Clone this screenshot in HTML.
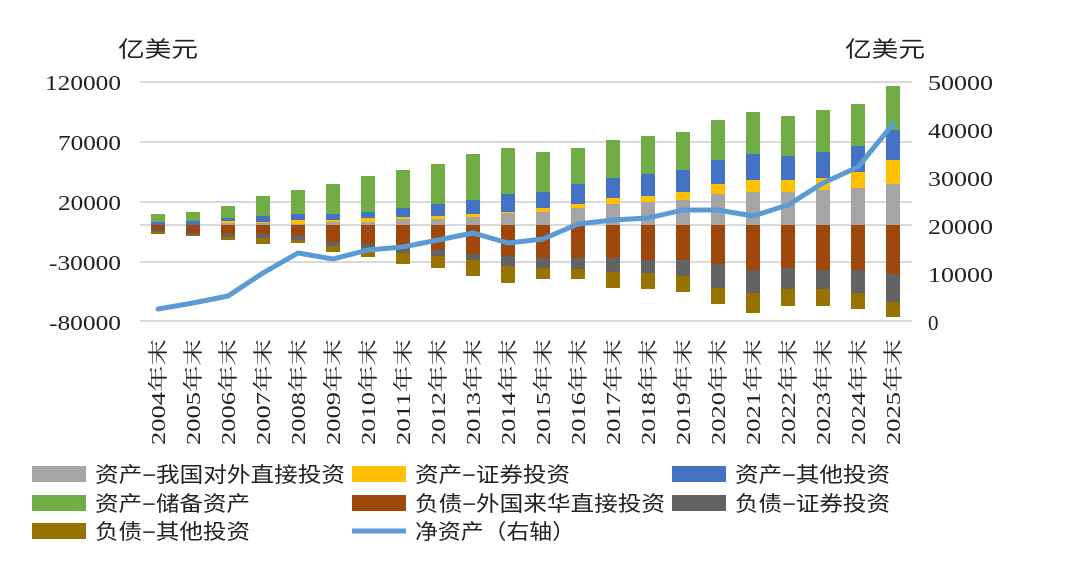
<!DOCTYPE html>
<html><head><meta charset="utf-8"><style>
html,body{margin:0;padding:0;background:#fff;}
svg{display:block;}
text{font-family:"Liberation Serif","Noto Serif CJK SC","Noto Sans CJK SC",serif;fill:#222;}
.cjk{font-family:"Liberation Sans","Noto Sans CJK SC",sans-serif;}
</style></head><body>
<svg id="s" width="1066" height="571" xmlns="http://www.w3.org/2000/svg">
<g stroke="#d9d9d9" stroke-width="2">
<line x1="140" y1="82" x2="912" y2="82"/><line x1="140" y1="142" x2="912" y2="142"/>
<line x1="140" y1="202" x2="912" y2="202"/><line x1="140" y1="225" x2="912" y2="225"/>
<line x1="140" y1="262" x2="912" y2="262"/><line x1="140" y1="321" x2="912" y2="321"/>
</g>
<text x="118" y="57" font-size="22" class="cjk" textLength="80" lengthAdjust="spacingAndGlyphs">亿美元</text>
<text x="845" y="57" font-size="22" class="cjk" textLength="80" lengthAdjust="spacingAndGlyphs">亿美元</text>
<g font-size="21" text-anchor="end" lengthAdjust="spacingAndGlyphs">
<text x="121" y="90" textLength="76" lengthAdjust="spacingAndGlyphs">120000</text>
<text x="121" y="150" textLength="63" lengthAdjust="spacingAndGlyphs">70000</text>
<text x="121" y="210" textLength="63" lengthAdjust="spacingAndGlyphs">20000</text>
<text x="121" y="270" textLength="72" lengthAdjust="spacingAndGlyphs">-30000</text>
<text x="121" y="330" textLength="72" lengthAdjust="spacingAndGlyphs">-80000</text>
</g>
<g font-size="21">
<text x="928" y="90" textLength="65" lengthAdjust="spacingAndGlyphs">50000</text>
<text x="928" y="138" textLength="65" lengthAdjust="spacingAndGlyphs">40000</text>
<text x="928" y="186" textLength="65" lengthAdjust="spacingAndGlyphs">30000</text>
<text x="928" y="234" textLength="65" lengthAdjust="spacingAndGlyphs">20000</text>
<text x="928" y="282" textLength="65" lengthAdjust="spacingAndGlyphs">10000</text>
<text x="928" y="330">0</text>
</g>
<g id="bars"></g>
<g id="xl" font-size="20"></g>
<polyline id="ln" fill="none" stroke="#5b9bd5" stroke-width="5" stroke-linejoin="round" stroke-linecap="round"/>
<g font-size="21" class="cjk">
<rect x="32" y="466" width="54" height="16" fill="#a5a5a5"/><text x="95" y="482" class="cjk" textLength="250" lengthAdjust="spacingAndGlyphs">资产−我国对外直接投资</text>
<rect x="352" y="466" width="54" height="16" fill="#ffc000"/><text x="415" y="482" class="cjk" textLength="155" lengthAdjust="spacingAndGlyphs">资产−证券投资</text>
<rect x="672" y="466" width="54" height="16" fill="#4472c4"/><text x="735" y="482" class="cjk" textLength="155" lengthAdjust="spacingAndGlyphs">资产−其他投资</text>
<rect x="32" y="495" width="54" height="16" fill="#70ad47"/><text x="95" y="511" class="cjk" textLength="155" lengthAdjust="spacingAndGlyphs">资产−储备资产</text>
<rect x="352" y="495" width="54" height="16" fill="#9e480e"/><text x="415" y="511" class="cjk" textLength="250" lengthAdjust="spacingAndGlyphs">负债−外国来华直接投资</text>
<rect x="672" y="495" width="54" height="16" fill="#636363"/><text x="735" y="511" class="cjk" textLength="155" lengthAdjust="spacingAndGlyphs">负债−证券投资</text>
<rect x="32" y="523" width="54" height="16" fill="#997300"/><text x="95" y="539" class="cjk" textLength="155" lengthAdjust="spacingAndGlyphs">负债−其他投资</text>
<line x1="352" y1="531" x2="406" y2="531" stroke="#5b9bd5" stroke-width="5"/><text x="415" y="539" class="cjk" textLength="160" lengthAdjust="spacingAndGlyphs">净资产（右轴）</text>
</g>
</svg>
<script>
var P=[[225,225,222,214],[225,225,221,212],[223,221,218,206],[223,222,216,196],[224,220,214,190],[222,220,214,184],[222,218,212,176],[219,217,208,170],[219,216,204,164],[217,214,200,154],[213,212,194,148],[212,208,192,152],[208,204,184,148],[204,198,178,140],[202,196,174,136],[200,192,170,132],[194,184,160,120],[192,180,154,112],[192,180,156,116],[190,178,152,110],[188,172,146,104],[184,160,130,86]];
var N=[[230,232,234],[233,235,236],[234,237,240],[234,238,244],[236,240,243],[242,246,252],[244,248,257],[250,253,264],[250,256,268],[254,260,276],[256,266,283],[258,268,279],[258,269,279],[258,272,288],[260,273,289],[260,276,292],[264,288,304],[270,293,313],[268,289,306],[270,289,306],[270,293,309],[274,302,317]];
var L=[309,303,296,273,253,259,250,247,240,233,243,239,224,220,218,210,210,216,205,183,167,124];
var pc=["#a5a5a5","#ffc000","#4472c4","#70ad47"],nc=["#9e480e","#636363","#997300"];
var s="",x="",pts=[];
for(var i=0;i<22;i++){var cx=158+35*i,l=cx-7;
 var prev=225;for(var k=0;k<4;k++){var t=P[i][k];if(prev>t)s+='<rect x="'+l+'" y="'+t+'" width="14" height="'+(prev-t)+'" fill="'+pc[k]+'"/>';prev=t;}
 prev=225;for(k=0;k<3;k++){t=N[i][k];if(t>prev)s+='<rect x="'+l+'" y="'+prev+'" width="14" height="'+(t-prev)+'" fill="'+nc[k]+'"/>';prev=t;}
 x+='<text transform="translate('+(cx+7)+',339) rotate(-90)" text-anchor="end" textLength="106" lengthAdjust="spacingAndGlyphs">'+(2004+i)+'年末</text>';
 pts.push(cx+","+L[i]);}
document.getElementById("bars").innerHTML=s;
document.getElementById("xl").innerHTML=x;
document.getElementById("ln").setAttribute("points",pts.join(" "));
</script>
</body></html>
